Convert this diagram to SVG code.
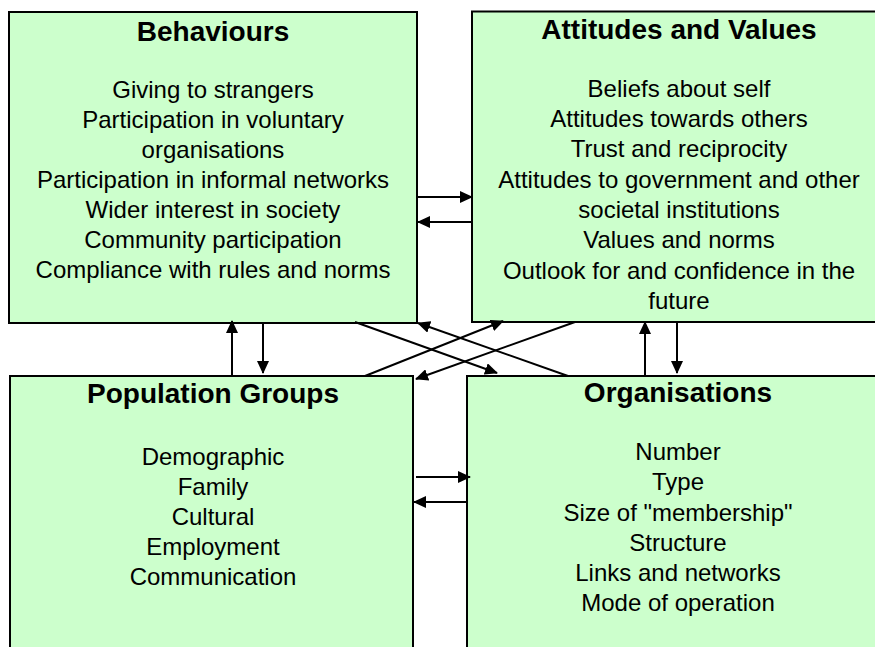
<svg xmlns="http://www.w3.org/2000/svg" width="875" height="647" viewBox="0 0 875 647">
<style>
.box{fill:#CCFFCC;stroke:#000;stroke-width:2}
.title{font-family:"Liberation Sans",Arial,sans-serif;font-weight:bold;font-size:28px;text-anchor:middle;fill:#000}
.body{font-family:"Liberation Sans",Arial,sans-serif;font-size:24px;text-anchor:middle;fill:#000}
.conn{stroke:#000;stroke-width:2;fill:none;marker-end:url(#ah)}
</style>
<defs>
<marker id="ah" markerUnits="userSpaceOnUse" markerWidth="13" markerHeight="12" refX="12" refY="6" orient="auto">
<path d="M0,0 L13,6 L0,12 Z" fill="#000"/>
</marker>
</defs>
<rect width="875" height="647" fill="#fff"/>
<g id="behaviours">
<rect class="box" x="9" y="12" width="408" height="311"/>
<text class="title" x="213" y="41">Behaviours</text>
<text class="body" x="213" y="98">Giving to strangers</text>
<text class="body" x="213" y="128">Participation in voluntary</text>
<text class="body" x="213" y="158">organisations</text>
<text class="body" x="213" y="188">Participation in informal networks</text>
<text class="body" x="213" y="218">Wider interest in society</text>
<text class="body" x="213" y="248">Community participation</text>
<text class="body" x="213" y="278">Compliance with rules and norms</text>
</g>
<g id="attitudes">
<rect class="box" x="472" y="11.5" width="416" height="310.5"/>
<text class="title" x="679" y="39">Attitudes and Values</text>
<text class="body" x="679" y="97">Beliefs about self</text>
<text class="body" x="679" y="127">Attitudes towards others</text>
<text class="body" x="679" y="157">Trust and reciprocity</text>
<text class="body" x="679" y="188">Attitudes to government and other</text>
<text class="body" x="679" y="218">societal institutions</text>
<text class="body" x="679" y="248">Values and norms</text>
<text class="body" x="679" y="279">Outlook for and confidence in the</text>
<text class="body" x="679" y="309">future</text>
</g>
<g id="population">
<rect class="box" x="10" y="376" width="403" height="280"/>
<text class="title" x="213" y="403">Population Groups</text>
<text class="body" x="213" y="465">Demographic</text>
<text class="body" x="213" y="495">Family</text>
<text class="body" x="213" y="525">Cultural</text>
<text class="body" x="213" y="555">Employment</text>
<text class="body" x="213" y="585">Communication</text>
</g>
<g id="organisations">
<rect class="box" x="467" y="376" width="420" height="280"/>
<text class="title" x="678" y="402">Organisations</text>
<text class="body" x="678" y="460">Number</text>
<text class="body" x="678" y="490">Type</text>
<text class="body" x="678" y="521">Size of "membership"</text>
<text class="body" x="678" y="551">Structure</text>
<text class="body" x="678" y="581">Links and networks</text>
<text class="body" x="678" y="611">Mode of operation</text>
</g>
<g id="connectors">
<line class="conn" x1="417" y1="197" x2="472" y2="197"/>
<line class="conn" x1="472" y1="222" x2="418" y2="222"/>
<line class="conn" x1="416" y1="477" x2="470" y2="477"/>
<line class="conn" x1="467" y1="502" x2="414" y2="502"/>
<line class="conn" x1="232" y1="376" x2="232" y2="321"/>
<line class="conn" x1="263" y1="323" x2="263" y2="373"/>
<line class="conn" x1="645" y1="376" x2="645" y2="322"/>
<line class="conn" x1="677" y1="322" x2="677" y2="373"/>
<line class="conn" x1="355" y1="322" x2="497" y2="373"/>
<line class="conn" x1="568" y1="376" x2="418" y2="323"/>
<line class="conn" x1="365" y1="376" x2="503" y2="321"/>
<line class="conn" x1="575" y1="322" x2="416" y2="379"/>
</g>
</svg>
